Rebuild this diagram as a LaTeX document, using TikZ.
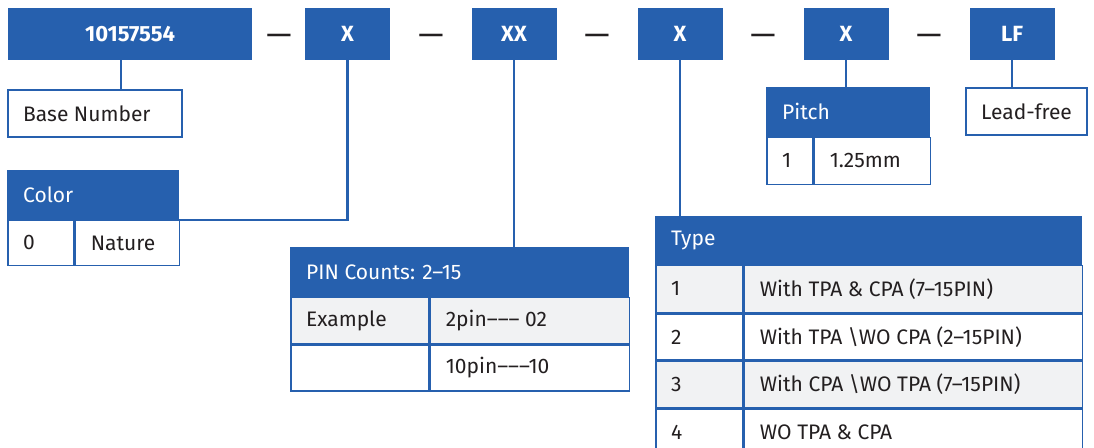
\documentclass[tikz,border=0pt]{standalone}
\usepackage{fontspec}
\setmainfont{Fira Sans}
\usepackage{tikz}
\usetikzlibrary{calc}
\definecolor{brand}{HTML}{2660AE}
\definecolor{ink}{HTML}{231F20}
\definecolor{rowgray}{HTML}{F1F2F3}
\tikzset{
  code/.style={fill=brand, text=white, font=\fontsize{22}{26}\selectfont\bfseries, minimum width=85pt, minimum height=52pt, inner sep=0pt},
  sep/.style={text=ink, font=\fontsize{32}{36}\selectfont, inner sep=0pt},
  cell/.style={draw=brand, line width=1.6pt, anchor=north west, minimum height=47pt, inner sep=0pt},
  head/.style={cell, fill=brand},
  shade/.style={fill=rowgray},
  txt/.style={anchor=west, inner sep=0pt, xshift=16pt, text=ink},
  htxt/.style={txt, text=white},
  wire/.style={draw=brand, line width=2.2pt},
}

\begin{document}
\begin{tikzpicture}[x=1pt,y=-1pt,font=\fontsize{21}{25}\selectfont]
  \useasboundingbox (0,0) rectangle (1094,447);
  \clip (0,0) rectangle (1094,447);

  % part number
  \node[code,minimum width=244pt] (num) at (130,34) {10157554};
  \node[code] (xcol)   at (347.5,34) {X};
  \node[code] (xpin)   at (514,34)   {XX};
  \node[code] (xtype)  at (680,34)   {X};
  \node[code] (xpitch) at (846,34)   {X};
  \node[code] (xlf)    at (1012,34)  {LF};
  \node[sep] (d1) at (279,40) {—};
  \node[sep] (d2) at (431,40) {—};
  \node[sep] (d3) at (597,40) {—};
  \node[sep] (d4) at (763,40) {—};
  \node[sep] (d5) at (929,40) {—};

  % base number
  \node[cell,minimum width=174pt,label={[txt]west:Base Number}] (base) at (7,89) {};

  % color
  \node[head,minimum width=170pt,minimum height=48pt,label={[htxt]west:Color}] (colhead) at (7,170) {};
  \node[cell,minimum width=66pt,minimum height=45pt,label={[txt]west:0}] (col1) at (colhead.south west) {};
  \node[cell,minimum width=104pt,minimum height=45pt,label={[txt]west:Nature}] (col1v) at (col1.north east) {};

  % pin counts
  \node[head,minimum width=337pt,minimum height=48pt,label={[htxt]west:PIN Counts: 2–15}] (pinhead) at (290,247) {};
  \node[cell,shade,minimum width=138pt,minimum height=46pt,label={[txt]west:Example}] (pin1) at (pinhead.south west) {};
  \node[cell,shade,minimum width=199pt,minimum height=46pt,label={[txt]west:2pin––– 02}] (pin1v) at (pin1.north east) {};
  \node[cell,minimum width=138pt,minimum height=46pt] (pin2) at (pin1.south west) {};
  \node[cell,minimum width=199pt,minimum height=46pt,label={[txt]west:10pin–––10}] (pin2v) at (pin2.north east) {};

  % type
  \node[head,minimum width=425pt,label={[htxt]west:Type}] (typehead) at (655,216) {};
  \node[cell,shade,minimum width=87pt,label={[txt]west:1}] (type1) at (typehead.south west) {};
  \node[cell,shade,minimum width=338pt,label={[txt]west:With TPA \& CPA (7–15PIN)}] (type1v) at (type1.north east) {};
  \node[cell,minimum width=87pt,minimum height=46pt,label={[txt]west:2}] (type2) at (type1.south west) {};
  \node[cell,minimum width=338pt,minimum height=46pt,label={[txt]west:With TPA \textbackslash WO CPA (2–15PIN)}] (type2v) at (type2.north east) {};
  \node[cell,shade,minimum width=87pt,minimum height=46pt,label={[txt]west:3}] (type3) at (type2.south west) {};
  \node[cell,shade,minimum width=338pt,minimum height=46pt,label={[txt]west:With CPA \textbackslash WO TPA (7–15PIN)}] (type3v) at (type3.north east) {};
  \node[cell,minimum width=87pt,label={[txt]west:4}] (type4) at (type3.south west) {};
  \node[cell,minimum width=338pt,label={[txt]west:WO TPA \& CPA}] (type4v) at (type4.north east) {};

  % pitch
  \node[head,minimum width=162pt,minimum height=48pt,label={[htxt]west:Pitch}] (pitchhead) at (766,87) {};
  \node[cell,minimum width=46pt,label={[txt]west:1}] (pitch1) at (pitchhead.south west) {};
  \node[cell,minimum width=116pt,label={[txt]west:1.25mm}] (pitch1v) at (pitch1.north east) {};

  % lead-free
  \node[cell,minimum width=121pt,label={[txt]west:Lead-free}] (lead) at (965,87) {};

  % connectors
  \draw[wire] ([xshift=-9pt]num.south) -- ([xshift=-9pt]num.south |- base.north);
  \draw[wire] (xcol.south) |- (colhead.south east);
  \draw[wire] (xpin.south) -- (xpin.south |- pinhead.north);
  \draw[wire] (xtype.south) -- (xtype.south |- typehead.north);
  \draw[wire] (xpitch.south) -- (xpitch.south |- pitchhead.north);
  \draw[wire] (xlf.south) -- (xlf.south |- lead.north);
\end{tikzpicture}
\end{document}
